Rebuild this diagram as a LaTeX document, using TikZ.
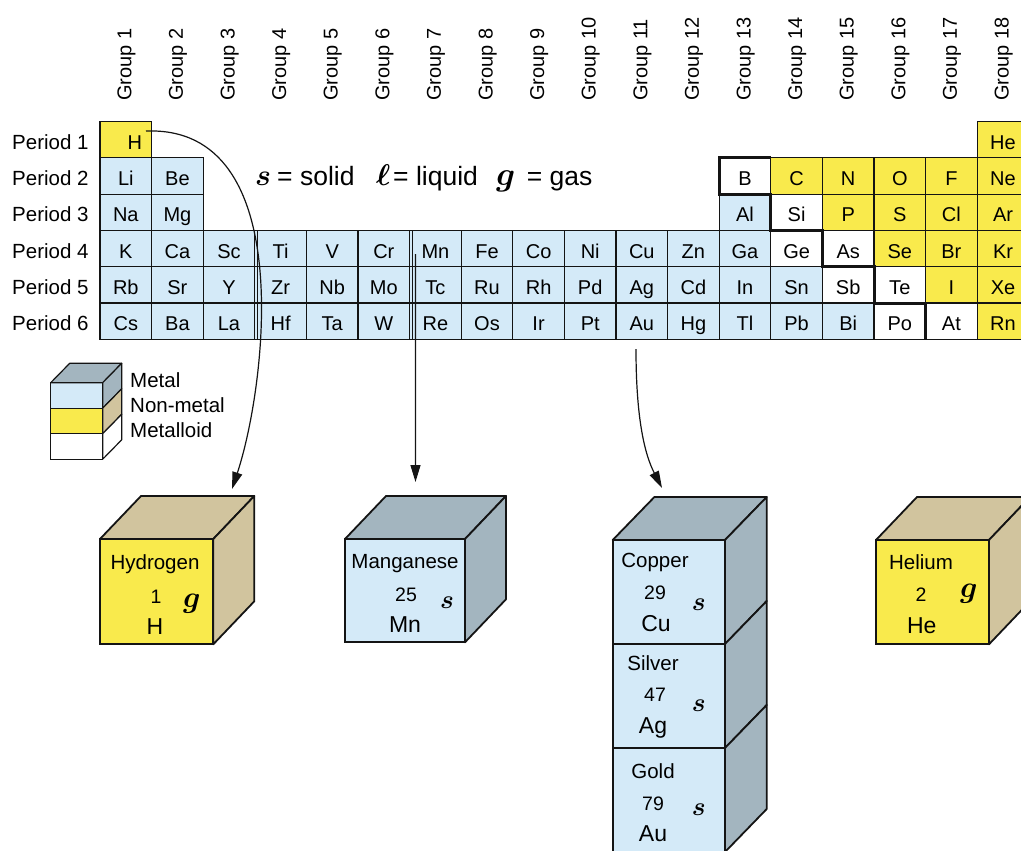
\RequirePackage{fix-cm}
\documentclass[tikz,border=0pt]{standalone}
\usepackage{fontspec}
\setmainfont{Liberation Sans}
\usetikzlibrary{arrows.meta}
\definecolor{metalc}{RGB}{212,234,248}
\definecolor{nonmc}{RGB}{249,234,76}
\definecolor{metalside}{RGB}{163,181,191}
\definecolor{nonmside}{RGB}{209,196,158}
\definecolor{inkc}{RGB}{20,20,20}
\newcommand{\fsz}[1]{\fontsize{#1}{#1}\selectfont}
\newcommand{\phs}[1]{{\boldmath$#1$}}
\newcommand{\drawcube}[7]{%
  \node[cubefront,fill=#6,minimum width=#4pt,minimum height=#5pt] (#1) at (#2,#3) {};
  \filldraw[cubeface,fill=#7] (#1.north west) -- ++(41,-43) -- ++(#4,0) -- (#1.north east) -- cycle;
  \filldraw[cubeface,fill=#7] (#1.north east) -- ++(41,-43) -- ++(0,#5) -- (#1.south east) -- cycle;
}
\begin{document}
\begin{tikzpicture}[x=1pt,y=-1pt,
  cell/.style={draw=inkc,line width=1.2pt,minimum width=51.6pt,minimum height=36.3pt,inner sep=0pt,outer sep=0pt,text height=20pt,text depth=1pt,font=\fsz{20}},
  metal/.style={cell,fill=metalc},
  nonmetal/.style={cell,fill=nonmc},
  metalloid/.style={cell,fill=white},
  grouplabel/.style={font=\fsz{20},inner sep=0pt,rotate=90,anchor=base west},
  periodlabel/.style={font=\fsz{20.5},inner sep=0pt,anchor=base west},
  legtext/.style={font=\fsz{20.5},inner sep=0pt,anchor=base west},
  statetext/.style={font=\fsz{26.5},inner sep=0pt,anchor=base west},
  statesym/.style={font=\fsz{30},inner sep=0pt,anchor=base west},
  conn/.style={draw=inkc,line width=1.2pt,-{Triangle[length=17pt,width=10pt]}},
  elname/.style={font=\fsz{20.5},inner sep=0pt,anchor=base},
  elnum/.style={font=\fsz{19.5},inner sep=0pt,anchor=base},
  elsym/.style={font=\fsz{23},inner sep=0pt,anchor=base},
  phase/.style={font=\fsz{26},inner sep=0pt,anchor=base west},
  cubefront/.style={draw=inkc,line width=1.8pt,inner sep=0pt,outer sep=0pt,anchor=north west},
  cubeface/.style={draw=inkc,line width=1.8pt,line join=round},
  legstripe/.style={draw=inkc,line width=1.2pt,minimum width=52pt,minimum height=25.5pt,inner sep=0pt,outer sep=0pt,anchor=north west},
  legface/.style={draw=inkc,line width=1.2pt,line join=round}
]
\useasboundingbox (0,0) rectangle (1021,851);

% ---------- group labels ----------
\foreach \g in {1,...,18}
  \node[grouplabel] (grp\g) at ({100+(\g-0.5)*51.6+5.5},101) {Group \g};
% ---------- period labels ----------
\foreach \r in {1,...,6}
  \node[periodlabel] (per\r) at (12,{121.5+(\r-0.5)*36.3+9.5}) {Period \r};

% ---------- table ----------
\node[nonmetal] (el-H) at ({100+0.5*51.6},{121.5+0.5*36.3}) {\hspace*{18pt}H};
\node[nonmetal] (el-He) at ({100+17.5*51.6},{121.5+0.5*36.3}) {He};
% row 2
\foreach \c/\s in {1/Li,2/Be}
  \node[metal] (el-\s) at ({100+(\c-0.5)*51.6},{121.5+1.5*36.3}) {\s};
\node[metalloid] (el-B) at ({100+12.5*51.6},{121.5+1.5*36.3}) {B};
\foreach \c/\s in {14/C,15/N,16/O,17/F,18/Ne}
  \node[nonmetal] (el-\s) at ({100+(\c-0.5)*51.6},{121.5+1.5*36.3}) {\s};
% row 3
\foreach \c/\s in {1/Na,2/Mg,13/Al}
  \node[metal] (el-\s) at ({100+(\c-0.5)*51.6},{121.5+2.5*36.3}) {\s};
\node[metalloid] (el-Si) at ({100+13.5*51.6},{121.5+2.5*36.3}) {Si};
\foreach \c/\s in {15/P,16/S,17/Cl,18/Ar}
  \node[nonmetal] (el-\s) at ({100+(\c-0.5)*51.6},{121.5+2.5*36.3}) {\s};
% row 4
\foreach \c/\s in {1/K,2/Ca,3/Sc,4/Ti,5/V,6/Cr,7/Mn,8/Fe,9/Co,10/Ni,11/Cu,12/Zn,13/Ga}
  \node[metal] (el-\s) at ({100+(\c-0.5)*51.6},{121.5+3.5*36.3}) {\s};
\foreach \c/\s in {14/Ge,15/As}
  \node[metalloid] (el-\s) at ({100+(\c-0.5)*51.6},{121.5+3.5*36.3}) {\s};
\foreach \c/\s in {16/Se,17/Br,18/Kr}
  \node[nonmetal] (el-\s) at ({100+(\c-0.5)*51.6},{121.5+3.5*36.3}) {\s};
% row 5
\foreach \c/\s in {1/Rb,2/Sr,3/Y,4/Zr,5/Nb,6/Mo,7/Tc,8/Ru,9/Rh,10/Pd,11/Ag,12/Cd,13/In,14/Sn}
  \node[metal] (el-\s) at ({100+(\c-0.5)*51.6},{121.5+4.5*36.3}) {\s};
\foreach \c/\s in {15/Sb,16/Te}
  \node[metalloid] (el-\s) at ({100+(\c-0.5)*51.6},{121.5+4.5*36.3}) {\s};
\foreach \c/\s in {17/I,18/Xe}
  \node[nonmetal] (el-\s) at ({100+(\c-0.5)*51.6},{121.5+4.5*36.3}) {\s};
% row 6
\foreach \c/\s in {1/Cs,2/Ba,3/La,4/Hf,5/Ta,6/W,7/Re,8/Os,9/Ir,10/Pt,11/Au,12/Hg,13/Tl,14/Pb,15/Bi}
  \node[metal] (el-\s) at ({100+(\c-0.5)*51.6},{121.5+5.5*36.3}) {\s};
\foreach \c/\s in {16/Po,17/At}
  \node[metalloid] (el-\s) at ({100+(\c-0.5)*51.6},{121.5+5.5*36.3}) {\s};
\node[nonmetal] (el-Rn) at ({100+17.5*51.6},{121.5+5.5*36.3}) {Rn};

% double separators
\draw[draw=inkc,line width=1pt] ({100+3*51.6+2.7},230.4) -- ({100+3*51.6+2.7},339.3);
\draw[draw=inkc,line width=1pt] ({100+6*51.6+2.5},230.4) -- ({100+6*51.6+2.5},339.3);
% metalloid staircase
\draw[draw=inkc,line width=3pt,line join=miter]
  (770.8,157.8) -- (719.2,157.8) -- (719.2,194.1) -- (770.8,194.1) -- (770.8,230.4)
  -- (822.4,230.4) -- (822.4,266.7) -- (874,266.7) -- (874,303) -- (925.6,303) -- (925.6,339.3);

% ---------- state legend ----------
\node[statesym] (sym-s) at (255,185) {\phs{s}};
\node[statetext] (txt-s) at (277,185) {= solid};
\node[statesym] (sym-l) at (376,185) {\phs{\ell}};
\node[statetext] (txt-l) at (393,185) {= liquid};
\node[statesym,font=\fsz{33}] (sym-g) at (496,185) {\phs{g}};
\node[statetext] (txt-g) at (526.7,185) {= gas};

% ---------- category legend ----------
\node[legstripe,fill=metalc] (lg-m) at (50.7,382.7) {};
\node[legstripe,fill=nonmc] (lg-n) at (50.7,408.2) {};
\node[legstripe,fill=white] (lg-d) at (50.7,433.7) {};
\filldraw[legface,fill=metalside] (lg-m.north west) -- ++(19,-19.4) -- ++(52,0) -- (lg-m.north east) -- cycle;
\filldraw[legface,fill=metalside] (lg-m.north east) -- ++(19,-19.4) -- ++(0,25.5) -- (lg-m.south east) -- cycle;
\filldraw[legface,fill=nonmside] (lg-n.north east) -- ++(19,-19.4) -- ++(0,25.5) -- (lg-n.south east) -- cycle;
\filldraw[legface,fill=white] (lg-d.north east) -- ++(19,-19.4) -- ++(0,25.5) -- (lg-d.south east) -- cycle;
\node[legtext] (lt-m) at (130,387) {Metal};
\node[legtext] (lt-n) at (130,412) {Non-metal};
\node[legtext] (lt-d) at (130,437) {Metalloid};

% ---------- cubes ----------
\drawcube{hcube}{100}{539}{113.3}{105.3}{nonmc}{nonmside}
\node[elname] (h-name) at (155,569.3) {Hydrogen};
\node[elnum] (h-num) at (156,603.3) {1};
\node[elsym] (h-sym) at (155,634) {H};
\node[phase,font=\fsz{30}] (h-ph) at (183,607) {\phs{g}};

\drawcube{mncube}{345}{539}{120}{103.3}{metalc}{metalside}
\node[elname] (mn-name) at (405,568.3) {Manganese};
\node[elnum] (mn-num) at (406,601.7) {25};
\node[elsym] (mn-sym) at (405,632.7) {Mn};
\node[phase] (mn-ph) at (440,608) {\phs{s}};

\drawcube{hecube}{876}{540}{113}{104.3}{nonmc}{nonmside}
\node[elname] (he-name) at (921,569.3) {Helium};
\node[elnum] (he-num) at (921,601.7) {2};
\node[elsym] (he-sym) at (921.7,633.3) {He};
\node[phase,font=\fsz{30}] (he-ph) at (960,597) {\phs{g}};

% copper / silver / gold stack
\node[cubefront,fill=metalc,minimum width=112.3pt,minimum height=104pt] (cu1) at (612.7,540) {};
\node[cubefront,fill=metalc,minimum width=112.3pt,minimum height=104pt] (cu2) at (612.7,644) {};
\node[cubefront,fill=metalc,minimum width=112.3pt,minimum height=104pt] (cu3) at (612.7,748) {};
\filldraw[cubeface,fill=metalside] (cu1.north west) -- ++(41.7,-43) -- ++(112.3,0) -- (cu1.north east) -- cycle;
\foreach \b in {cu1,cu2,cu3}
  \filldraw[cubeface,fill=metalside] (\b.north east) -- ++(41.7,-43) -- ++(0,104) -- (\b.south east) -- cycle;
\node[elname] (cu-name) at (655,567) {Copper};
\node[elnum] (cu-num) at (655,599) {29};
\node[elsym] (cu-sym) at (656,631.7) {Cu};
\node[phase] (cu-ph) at (691.7,610) {\phs{s}};
\node[elname] (ag-name) at (653,670) {Silver};
\node[elnum] (ag-num) at (655,701.7) {47};
\node[elsym] (ag-sym) at (653,733.3) {Ag};
\node[phase] (ag-ph) at (691.7,711) {\phs{s}};
\node[elname] (au-name) at (653,778.3) {Gold};
\node[elnum] (au-num) at (653,810) {79};
\node[elsym] (au-sym) at (653,841.7) {Au};
\node[phase] (au-ph) at (691.7,815) {\phs{s}};

% ---------- connectors ----------
\coordinate (hend) at (232,489);
\coordinate (mnend) at (415.5,482);
\coordinate (austart) at (636,349);
\coordinate (auend) at (662,488);
\draw[conn] ([xshift=-5.6pt,yshift=8.6pt]el-H.east) .. controls (300,125) and (265,390) .. (hend);
\draw[conn] ([xshift=-20pt,yshift=-5.5pt]el-Mn.center) -- (mnend);
\draw[conn] (austart) .. controls (636,420) and (645,455) .. (auend);
\end{tikzpicture}
\end{document}
